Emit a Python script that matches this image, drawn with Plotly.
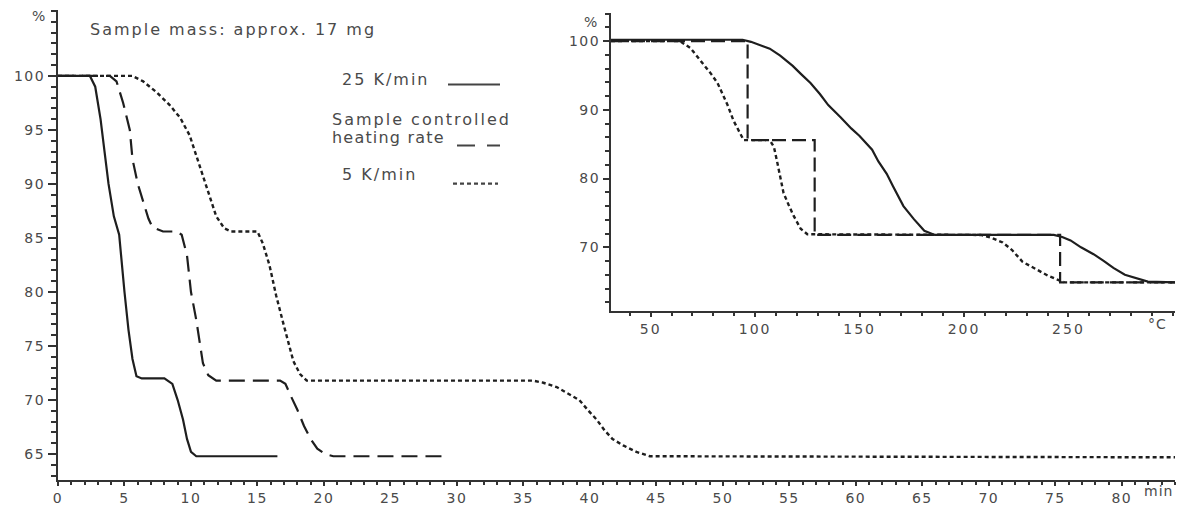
import plotly.graph_objects as go

# ---------------- data (main chart: time in min, mass in %) ----------------
t_25 = [0, 2.4, 2.8, 3.2, 3.5, 3.8, 4.2, 4.6, 5.0, 5.3, 5.6, 5.9, 6.3, 8.0, 8.6, 9.0, 9.4, 9.7, 10.0, 10.4, 16.5]
m_25 = [100, 100, 99, 96, 93, 90, 87, 85.3, 80, 76.5, 73.8, 72.2, 72.0, 72.0, 71.5, 70.0, 68.2, 66.4, 65.2, 64.8, 64.8]

t_sc = [0, 3.9, 4.4, 4.9, 5.4, 5.6, 6.0, 6.8, 7.1, 7.9, 8.9, 9.3, 9.7, 10.0, 10.4, 10.7, 10.9, 11.3, 11.9,
        16.7, 17.1, 17.5, 18.0, 18.5, 19.0, 19.5, 20.1, 20.7, 28.9]
m_sc = [100, 100, 99.5, 97.5, 95, 92.3, 90, 86.8, 86.0, 85.6, 85.6, 85.3, 83.4, 80, 77.4, 75, 73.4, 72.3, 71.8,
        71.8, 71.5, 70.4, 69.1, 67.6, 66.4, 65.5, 65.0, 64.8, 64.8]

t_5 = [0, 5.6, 6.4, 7.4, 8.4, 9.2, 9.9, 10.5, 10.9, 11.4, 11.9, 12.5, 13.0, 15.0, 15.4, 15.9, 16.4, 16.9, 17.4,
       17.7, 18.2, 18.7, 35.7, 36.5, 37.5, 38.4, 39.2, 39.9, 40.5, 41.1, 41.7, 42.5, 43.5, 44.5, 84]
m_5 = [100, 100, 99.5, 98.5, 97.3, 96.1, 94.5, 92.3, 90.8, 88.8, 87.0, 85.9, 85.6, 85.6, 84.5, 82.5, 79.7, 77.3, 74.9,
       73.6, 72.4, 71.8, 71.8, 71.6, 71.2, 70.6, 70.0, 69.0, 68.2, 67.2, 66.4, 65.8, 65.2, 64.8, 64.7]

# ---------------- data (inset: temperature in degC, mass in %) ----------------
T_25 = [31, 94, 98, 103, 107, 112, 118, 122, 126.5, 131, 135, 141, 146, 150, 153, 156, 159, 163, 166, 171, 176,
        181, 186, 243, 247, 251, 256, 262, 267, 271.5, 277, 283, 288, 301]
M_25 = [100.2, 100.2, 99.9, 99.4, 98.9, 97.9, 96.4, 95.2, 93.9, 92.3, 90.7, 88.9, 87.3, 86.2, 85.2, 84.2, 82.5,
        80.7, 78.9, 76.0, 74.1, 72.4, 71.8, 71.8, 71.5, 71.0, 70.0, 69.0, 68.0, 67.0, 66.0, 65.4, 65.0, 64.9]

T_sc = [31, 96.4, 96.4, 128.5, 128.5, 246, 246, 301]
M_sc = [100, 100, 85.6, 85.6, 71.8, 71.8, 64.9, 64.9]

T_5 = [31, 64, 69, 75, 79, 82, 86.8, 89.7, 93, 94.5, 107, 109, 110.5, 112, 113.6, 116, 118.4, 121.8, 125,
       208, 213, 218.5, 223, 228, 234, 240, 244, 248, 301]
M_5 = [100, 100, 99, 96.8, 95.2, 93.9, 90.7, 88.4, 86.4, 85.6, 85.6, 84.6, 82.5, 80.5, 77.9, 76.2, 74.6, 72.7, 71.9,
       71.8, 71.4, 70.7, 69.6, 67.9, 66.9, 65.9, 65.4, 64.9, 64.9]

main_xticks = list(range(0, 81, 5))
main_yticks = list(range(65, 101, 5))
inset_xticks = [50, 100, 150, 200, 250]
inset_yticks = [70, 80, 90, 100]

legend_labels = ["25 K/min", "Sample controlled", "heating rate", "5 K/min"]

# ---------------- styling ----------------
LINE = "#1e1e1e"
TXT = "#4a4a4a"
FONT = "DejaVu Sans, Liberation Sans, Arial, sans-serif"
W, H = 1178, 509
L, R, T, B = 58, 3, 10, 20
PW, PH = W - L - R, H - T - B

def px(x):
    return (x - L) / PW

def py(y):
    return (H - B - y) / PH

def spaced(s, ls):
    return f'<span style="letter-spacing:{ls}px">{s}</span>'

SOLID = dict(color=LINE, width=2.2)
DASH = dict(color=LINE, width=2.2, dash="16px,8px")
DOT = dict(color=LINE, width=2.4, dash="4px,3px")

fig = go.Figure()
fig.add_trace(go.Scatter(x=t_25, y=m_25, mode="lines", line=SOLID, xaxis="x", yaxis="y"))
fig.add_trace(go.Scatter(x=t_sc, y=m_sc, mode="lines", line=DASH, xaxis="x", yaxis="y"))
fig.add_trace(go.Scatter(x=t_5, y=m_5, mode="lines", line=DOT, xaxis="x", yaxis="y"))

fig.add_trace(go.Scatter(x=T_25, y=M_25, mode="lines", line=SOLID, xaxis="x2", yaxis="y2"))
fig.add_trace(go.Scatter(x=T_5, y=M_5, mode="lines", line=DOT, xaxis="x2", yaxis="y2"))
fig.add_trace(go.Scatter(x=T_sc, y=M_sc, mode="lines", line=dict(color=LINE, width=2.2, dash="14px,6px"),
                         xaxis="x2", yaxis="y2"))

axis_common = dict(showline=True, linecolor="#333", linewidth=2, showgrid=False, zeroline=False,
                   ticks="outside", tickcolor="#333", tickwidth=1.5,
                   tickfont=dict(family=FONT, size=14, color=TXT), fixedrange=True)

fig.update_layout(
    width=W, height=H,
    margin=dict(l=L, r=R, t=T, b=B),
    paper_bgcolor="white", plot_bgcolor="white",
    showlegend=False, hovermode=False,
    xaxis=dict(**axis_common, range=[0, 84], tickvals=main_xticks,
               ticktext=[spaced(v, 1.5) for v in main_xticks], ticklen=4,
               minor=dict(dtick=1, ticklen=3, tickcolor="#333", ticks="outside"),
               domain=[0, 1], anchor="y"),
    yaxis=dict(**axis_common, range=[62.6, 106.1], tickvals=main_yticks,
               ticktext=[spaced(v, 1.5) for v in main_yticks], ticklen=8,
               minor=dict(dtick=1, ticklen=5, tickcolor="#333", ticks="outside"),
               domain=[0, 1], anchor="x"),
    xaxis2=dict(**axis_common, range=[31, 301], tickvals=inset_xticks,
                ticktext=[spaced(v, 2) for v in inset_xticks], ticklen=4,
                minor=dict(dtick=10, ticklen=3, tickcolor="#333", ticks="outside"),
                domain=[px(611), 1.0], anchor="y2"),
    yaxis2=dict(**axis_common, range=[60.7, 104.1], tickvals=inset_yticks,
                ticktext=[spaced(v, 1.5) for v in inset_yticks], ticklen=6,
                minor=dict(dtick=2, ticklen=4, tickcolor="#333", ticks="outside"),
                domain=[py(317), py(13)], anchor="x2"),
)

def note(text, x, y, size=16, xanchor="left", ls=2):
    fig.add_annotation(text=spaced(text, ls), x=px(x), y=py(y), xref="paper", yref="paper",
                       xanchor=xanchor, yanchor="middle", showarrow=False,
                       font=dict(family=FONT, size=size, color=TXT))

note("Sample mass: approx. 17 mg", 88, 30, size=16, ls=2)
note(legend_labels[0], 340, 81)
note(legend_labels[1], 330, 122)
note(legend_labels[2], 330, 140, ls=1.2)
note(legend_labels[3], 340, 178)
note("%", 30, 16, size=14, ls=0)
note("%", 582, 22, size=14, ls=0)
note("°C", 1146, 330, size=14, ls=1)
note("min", 1142, 500, size=14, ls=1)

def sample_line(x0, x1, y, style):
    fig.add_shape(type="line", xref="paper", yref="paper", x0=px(x0), x1=px(x1), y0=py(y), y1=py(y),
                  line=style)

sample_line(448, 500, 86, dict(color="#444", width=2))
sample_line(457, 500, 148, dict(color="#444", width=2, dash="18px,12px"))
sample_line(453, 498, 187, dict(color="#444", width=2.2, dash="4px,3px"))

fig.write_html(
    "out.html",
    config={"displayModeBar": False},
    post_script="document.body.style.margin='0';document.body.style.padding='0';"
                "document.body.style.overflow='hidden';",
)
